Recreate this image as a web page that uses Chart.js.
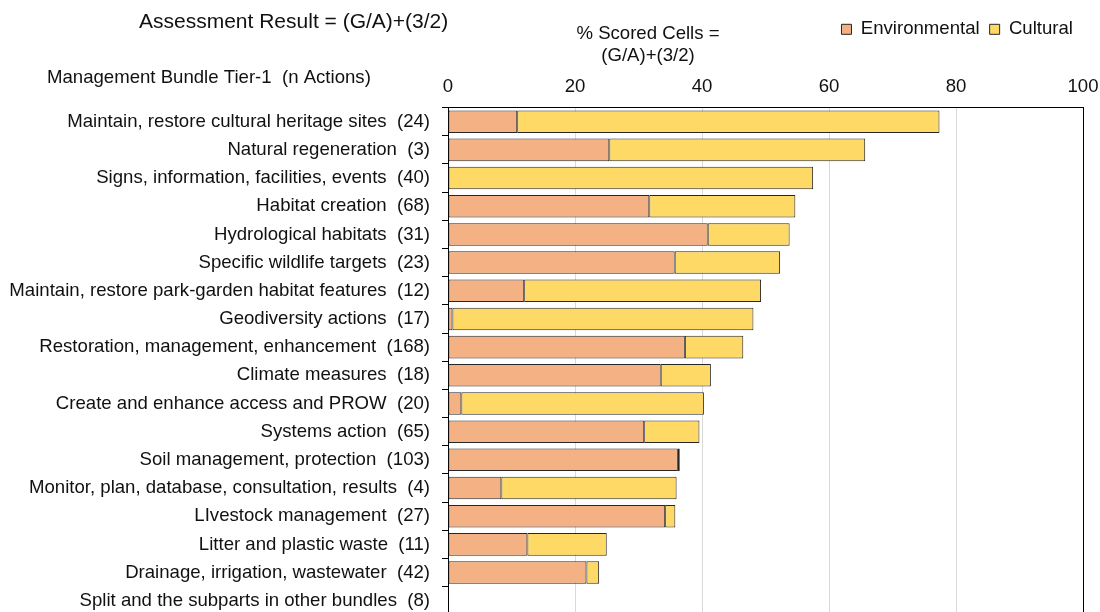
<!DOCTYPE html>
<html>
<head>
<meta charset="utf-8">
<script src="https://cdn.jsdelivr.net/npm/chart.js@4"></script>
<style>
  html, body { margin: 0; padding: 0; background: #fff; overflow: hidden; }
  #wrap { position: relative; width: 1100px; height: 638px; }
</style>
</head>
<body>
<div id="wrap"><canvas id="grafico"></canvas></div>
<script>
// dados
var categorias = [
  "Maintain, restore cultural heritage sites  (24)",
  "Natural regeneration  (3)",
  "Signs, information, facilities, events  (40)",
  "Habitat creation  (68)",
  "Hydrological habitats  (31)",
  "Specific wildlife targets  (23)",
  "Maintain, restore park-garden habitat features  (12)",
  "Geodiversity actions  (17)",
  "Restoration, management, enhancement  (168)",
  "Climate measures  (18)",
  "Create and enhance access and PROW  (20)",
  "Systems action  (65)",
  "Soil management, protection  (103)",
  "Monitor, plan, database, consultation, results  (4)",
  "LIvestock management  (27)",
  "Litter and plastic waste  (11)",
  "Drainage, irrigation, wastewater  (42)",
  "Split and the subparts in other bundles  (8)"
]
var ambiental = [10.9, 25.4, 0, 31.7, 40.9, 35.7, 12.0, 0.7, 37.3, 33.5, 2.1, 30.9, 36.2, 8.4, 34.2, 12.5, 21.8, null]
var cultural  = [66.5, 40.3, 57.5, 23.0, 12.9, 16.6, 37.3, 47.4, 9.2, 7.9, 38.2, 8.7, 0.3, 27.6, 1.6, 12.5, 2.0, null]
var xTicks = [0, 20, 40, 60, 80, 100]

var fonte = "'Liberation Sans', Arial, sans-serif"
var tam = 18.6
var corTexto = '#111'

// textos fixos e moldura
var textos = {
  id: 'textos',
  afterDraw: function(chart) {
    var c = chart.ctx
    var a = chart.chartArea
    c.save()
    c.fillStyle = corTexto
    c.textBaseline = 'middle'
    c.font = '21px ' + fonte
    c.textAlign = 'left'
    c.fillText('Assessment Result = (G/A)+(3/2)', 139, 22)
    c.font = tam + 'px ' + fonte
    c.fillText('Management Bundle Tier-1  (n Actions)', 47, 78)
    c.textAlign = 'center'
    c.fillText('% Scored Cells =', 648, 34)
    c.fillText('(G/A)+(3/2)', 648, 56)
    // borda direita
    c.strokeStyle = '#000'
    c.lineWidth = 1
    c.beginPath()
    c.moveTo(Math.round(a.right) + 0.5, a.top)
    c.lineTo(Math.round(a.right) + 0.5, a.bottom)
    c.stroke()
    c.restore()
  }
}

var ctx = document.getElementById('grafico').getContext('2d')
var grafico = new Chart(ctx, {
  type: 'bar',
  data: {
    labels: categorias,
    datasets: [{
      label: 'Environmental',
      data: ambiental,
      backgroundColor: '#F4B183',
      borderColor: '#262626',
      borderWidth: 1,
      borderSkipped: false,
      barPercentage: 0.8,
      categoryPercentage: 1
    },
    {
      label: 'Cultural',
      data: cultural,
      backgroundColor: '#FFD966',
      borderColor: '#262626',
      borderWidth: 1,
      borderSkipped: false,
      barPercentage: 0.8,
      categoryPercentage: 1
    }]
  },
  options: {
    indexAxis: 'y',
    responsive: true,
    maintainAspectRatio: false,
    animation: false,
    layout: { padding: { top: 10, right: 17, left: 0, bottom: 0 } },
    plugins: {
      legend: {
        position: 'top',
        align: 'end',
        labels: {
          boxWidth: 10,
          boxHeight: 10,
          padding: 10,
          color: corTexto,
          font: { family: fonte, size: tam }
        }
      },
      tooltip: { enabled: false }
    },
    scales: {
      x: {
        position: 'top',
        stacked: true,
        min: 0,
        max: 100,
        afterBuildTicks: function(s) { s.ticks = xTicks.map(function(v) { return { value: v } }) },
        afterFit: function(s) { s.height = 59; s.paddingRight = 3; s.paddingLeft = 0 },
        ticks: { color: corTexto, padding: 10, font: { family: fonte, size: tam } },
        grid: { color: '#d9d9d9', drawTicks: false },
        border: { color: '#000' }
      },
      y: {
        stacked: true,
        afterFit: function(s) { s.width = 448 },
        ticks: { color: corTexto, padding: 12, font: { family: fonte, size: tam }, autoSkip: false },
        grid: { offset: true, drawOnChartArea: false, drawTicks: true, tickLength: 6, color: '#000' },
        border: { color: '#000' }
      }
    }
  },
  plugins: [textos]
})
</script>
</body>
</html>
